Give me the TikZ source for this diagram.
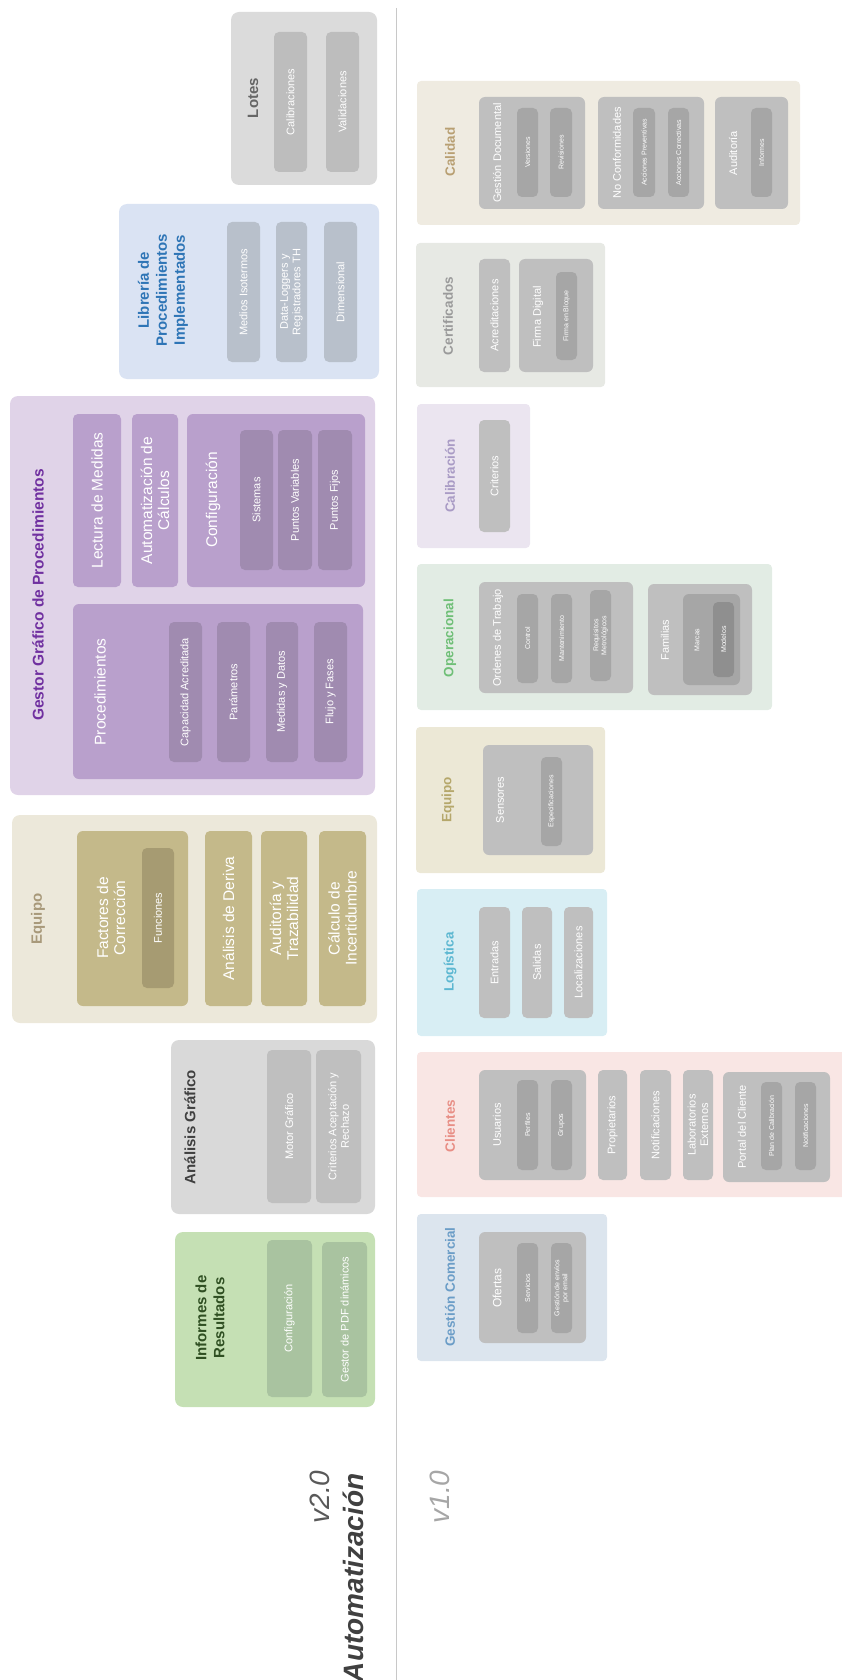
\documentclass[tikz,border=0pt]{standalone}
\usepackage{fontspec}
\setmainfont{Liberation Sans}
\usepackage{tikz}
\usetikzlibrary{positioning}

\definecolor{lotesbg}{HTML}{DBDBDB}
\definecolor{lotesit}{HTML}{BDBDBD}
\definecolor{lotestx}{HTML}{666666}
\definecolor{libbg}{HTML}{DAE3F3}
\definecolor{libit}{HTML}{B8C0CB}
\definecolor{libtx}{HTML}{2E75B6}
\definecolor{gesbg}{HTML}{E0D3E8}
\definecolor{gesit}{HTML}{B9A0CC}
\definecolor{gesin}{HTML}{A08BB0}
\definecolor{gestx}{HTML}{7030A0}
\definecolor{eqbg}{HTML}{ECE8DA}
\definecolor{eqit}{HTML}{C4B98A}
\definecolor{eqin}{HTML}{A69B72}
\definecolor{eqtx}{HTML}{A8997A}
\definecolor{agbg}{HTML}{D9D9D9}
\definecolor{agit}{HTML}{BFBFBF}
\definecolor{agtx}{HTML}{404040}
\definecolor{infbg}{HTML}{C5E0B4}
\definecolor{infit}{HTML}{A9C3A0}
\definecolor{inftx}{HTML}{2F4F22}
\definecolor{vtwotx}{HTML}{595959}
\definecolor{vonetx}{HTML}{A6A6A6}
\definecolor{divline}{HTML}{C8C8C8}
\definecolor{grayit}{HTML}{BFBFBF}
\definecolor{grayin}{HTML}{A6A6A6}
\definecolor{grayd}{HTML}{8F8F8F}
\definecolor{calbg}{HTML}{EFEBE1}
\definecolor{caltx}{HTML}{B89F72}
\definecolor{certbg}{HTML}{E7E9E4}
\definecolor{certtx}{HTML}{9A9A9A}
\definecolor{calibbg}{HTML}{EBE5F0}
\definecolor{calibtx}{HTML}{A99BC5}
\definecolor{opbg}{HTML}{E2ECE4}
\definecolor{optx}{HTML}{6FBF77}
\definecolor{eqonebg}{HTML}{ECE8D6}
\definecolor{eqonetx}{HTML}{B5A76B}
\definecolor{logbg}{HTML}{D8EEF4}
\definecolor{logtx}{HTML}{5BB7D1}
\definecolor{clibg}{HTML}{F9E6E4}
\definecolor{clitx}{HTML}{E88E85}
\definecolor{gcbg}{HTML}{DCE5EE}
\definecolor{gctx}{HTML}{6B9DC7}

\begin{document}
\begin{tikzpicture}[x=1pt, y=-1pt,
	wh/.style 2 args={minimum width=#2, minimum height=#1},
	panel/.style={rectangle, rounded corners=8pt, rotate=90, inner sep=0pt},
	panelone/.style={panel, rounded corners=4pt},
	group/.style={rectangle, rounded corners=6pt, rotate=90, inner sep=0pt},
	item/.style={rectangle, rounded corners=5pt, rotate=90, inner sep=1pt, align=center, text=white, font=\fontsize{11}{12.5}\selectfont},
	bigitem/.style={item, font=\fontsize{15.5}{17}\selectfont},
	tinyitem/.style={item, font=\fontsize{7}{8}\selectfont},
	title/.style={rotate=90, align=center, font=\bfseries\fontsize{15}{18}\selectfont},
	subtitle/.style={rotate=90, align=center, font=\bfseries\fontsize{13.5}{16}\selectfont},
	lbl/.style={rotate=90, align=center, text=white, font=\fontsize{11}{13}\selectfont},
	biglbl/.style={lbl, font=\fontsize{15.5}{17}\selectfont},
	tinylbl/.style={lbl, font=\fontsize{7}{8}\selectfont},
	ver/.style={rotate=90, anchor=east, font=\itshape\fontsize{28}{30}\selectfont}]

\useasboundingbox (0,0) rectangle (842,1680);

% v2.0 column
\node[panel, fill=lotesbg, wh={146}{173}] (lotes) at (304,98.5) {};
\node[title, text=lotestx] (lotesT) at (253,98) {Lotes};
\node[item, fill=lotesit, wh={33}{140}] (calibraciones) at (290.5,102) {Calibraciones};
\node[item, fill=lotesit, wh={33}{140}] (validaciones) at (342.5,102) {Validaciones};

\node[panel, fill=libbg, wh={260}{175}] (libreria) at (249,291.5) {};
\node[title, text=libtx] (libreriaT) at (163,290) {Librería de\\Procedimientos\\Implementados};
\node[item, fill=libit, wh={33}{140}] (isotermos) at (243.5,292) {Medios Isotermos};
\node[item, fill=libit, wh={31}{140}] (loggers) at (291.5,292) {Data-Loggers y\\Registradores TH};
\node[item, fill=libit, wh={33}{140}] (dimensional) at (340.5,292) {Dimensional};

\node[panel, fill=gesbg, wh={365}{399}] (gestor) at (192.5,595.5) {};
\node[title, text=gestx, font=\bfseries\fontsize{15.5}{18}\selectfont] (gestorT) at (38,595) {Gestor Gráfico de Procedimientos};
\node[bigitem, fill=gesit, wh={48}{173}] (lectura) at (97,500.5) {Lectura de Medidas};
\node[bigitem, fill=gesit, wh={46}{173}] (calculos) at (155,500.5) {Automatización de\\Cálculos};
\node[group, fill=gesit, wh={178}{173}] (config) at (276,500.5) {};
\node[biglbl] (configT) at (213,500) {Configuración};
\node[item, fill=gesin, wh={33}{140}] (sistemas) at (256.5,500) {Sistemas};
\node[item, fill=gesin, wh={34}{140}] (pvariables) at (295,500) {Puntos Variables};
\node[item, fill=gesin, wh={34}{140}] (pfijos) at (335,500) {Puntos Fijos};
\node[group, fill=gesit, wh={290}{175}] (proc) at (218,691.5) {};
\node[biglbl] (procT) at (100,692) {Procedimientos};
\node[item, fill=gesin, wh={33}{140}] (capacidad) at (185.5,692) {Capacidad Acreditada};
\node[item, fill=gesin, wh={33}{140}] (parametros) at (233.5,692) {Parámetros};
\node[item, fill=gesin, wh={32}{140}] (medidas) at (282,692) {Medidas y Datos};
\node[item, fill=gesin, wh={33}{140}] (flujo) at (330.5,692) {Flujo y Fases};

\node[panel, fill=eqbg, wh={365}{208}] (equipo) at (194.5,919) {};
\node[title, text=eqtx] (equipoT) at (38,919) {Equipo};
\node[group, fill=eqit, wh={111}{175}] (factores) at (132.5,918.5) {};
\node[biglbl] (factoresT) at (111,918) {Factores de\\Corrección};
\node[item, fill=eqin, wh={32}{140}] (funciones) at (158,918) {Funciones};
\node[bigitem, fill=eqit, wh={47}{175}] (deriva) at (228.5,918.5) {Análisis de Deriva};
\node[bigitem, fill=eqit, wh={46}{175}] (trazab) at (284,918.5) {Auditoría y\\Trazabilidad};
\node[bigitem, fill=eqit, wh={47}{175}] (incert) at (342.5,918.5) {Cálculo de\\Incertidumbre};

\node[panel, fill=agbg, wh={204}{174}] (agrafico) at (273,1127) {};
\node[title, text=agtx] (agraficoT) at (190,1127) {Análisis Gráfico};
\node[item, fill=agit, wh={44}{153}] (motor) at (289,1126.5) {Motor Gráfico};
\node[item, fill=agit, wh={45}{153}] (aceptacion) at (338.5,1126.5) {Criterios Aceptación y\\Rechazo};

\node[panel, fill=infbg, wh={200}{175}] (informes) at (275,1319.5) {};
\node[title, text=inftx] (informesT) at (210,1318) {Informes de\\Resultados};
\node[item, fill=infit, wh={45}{157}] (infconfig) at (289.5,1318.5) {Configuración};
\node[item, fill=infit, wh={45}{155}] (pdf) at (344.5,1319.5) {Gestor de PDF dinámicos};

\node[ver, text=vtwotx] (vtwo) at (320,1467) {v2.0};
\node[ver, text=agtx, font=\bfseries\itshape\fontsize{28}{30}\selectfont] (automat) at (353,1470) {Automatización};

% divider
\coordinate (divtop) at (396,8);
\coordinate (divbot) at (396,1680);
\draw[divline, line width=1pt] (divtop) -- (divbot);

% v1.0 column
\node[panelone, fill=calbg, wh={383}{144}] (calidad) at (608.5,153) {};
\node[subtitle, text=caltx] (calidadT) at (450,152) {Calidad};
\node[group, fill=grayit, wh={106}{112}] (gdoc) at (532,153) {};
\node[lbl] (gdocT) at (497,153) {Gestión Documental};
\node[tinyitem, fill=grayin, wh={21}{89}] (versiones) at (527.5,152.5) {Versiones};
\node[tinyitem, fill=grayin, wh={22}{89}] (revisiones) at (561,152.5) {Revisiones};
\node[group, fill=grayit, wh={106}{112}] (noconf) at (651,153) {};
\node[lbl] (noconfT) at (617,153) {No Conformidades};
\node[tinyitem, fill=grayin, wh={22}{89}] (preventivas) at (644,152.5) {Acciones Preventivas};
\node[tinyitem, fill=grayin, wh={21}{89}] (correctivas) at (678.5,152.5) {Acciones Correctivas};
\node[group, fill=grayit, wh={73}{112}] (auditoria) at (751.5,153) {};
\node[lbl] (auditoriaT) at (733,153) {Auditoría};
\node[tinyitem, fill=grayin, wh={21}{89}] (infauditoria) at (761.5,152.5) {Informes};

\node[panelone, fill=certbg, wh={189}{144}] (certif) at (510.5,315) {};
\node[subtitle, text=certtx] (certifT) at (448,316) {Certificados};
\node[item, fill=grayit, wh={31}{113}] (acredit) at (494.5,315.5) {Acreditaciones};
\node[group, fill=grayit, wh={74}{113}] (firma) at (556,315.5) {};
\node[lbl] (firmaT) at (538,317) {Firma Digital};
\node[tinyitem, fill=grayin, wh={21}{88}] (bloque) at (566.5,316) {Firma en Bloque};

\node[panelone, fill=calibbg, wh={113}{144}] (calibracion) at (473.5,476) {};
\node[subtitle, text=calibtx] (calibracionT) at (450,476) {Calibración};
\node[item, fill=grayit, wh={31}{112}] (criterios) at (494.5,476) {Criterios};

\node[panelone, fill=opbg, wh={355}{146}] (operacional) at (594.5,637) {};
\node[subtitle, text=optx] (operacionalT) at (450,638) {Operacional};
\node[group, fill=grayit, wh={154}{111}] (ordenes) at (556,637.5) {};
\node[lbl] (ordenesT) at (498,638) {Ordenes de Trabajo};
\node[tinyitem, fill=grayin, wh={21}{89}] (control) at (527.5,638.5) {Control};
\node[tinyitem, fill=grayin, wh={21}{89}] (mantenim) at (561.5,638.5) {Mantenimiento};
\node[tinyitem, fill=grayin, wh={21}{91}] (requisitos) at (600.5,635.5) {Requisitos\\Metrológicos};
\node[group, fill=grayit, wh={104}{111}] (familias) at (700,639.5) {};
\node[lbl] (familiasT) at (665,640) {Familias};
\node[group, fill=grayin, wh={57}{91}] (marcas) at (711.5,639.5) {};
\node[tinylbl] (marcasT) at (697,640) {Marcas};
\node[tinyitem, fill=grayd, wh={21}{75}] (modelos) at (723.5,639.5) {Modelos};

\node[panelone, fill=eqonebg, wh={189}{146}] (equipoone) at (510.5,800) {};
\node[subtitle, text=eqonetx] (equipooneT) at (448,800) {Equipo};
\node[group, fill=grayit, wh={110}{110}] (sensores) at (538,800) {};
\node[lbl] (sensoresT) at (500,800) {Sensores};
\node[tinyitem, fill=grayin, wh={21}{89}] (especif) at (551.5,801.5) {Especificaciones};

\node[panelone, fill=logbg, wh={190}{147}] (logistica) at (512,962.5) {};
\node[subtitle, text=logtx] (logisticaT) at (450,962) {Logística};
\node[item, fill=grayit, wh={31}{111}] (entradas) at (494.5,962.5) {Entradas};
\node[item, fill=grayit, wh={30}{111}] (salidas) at (537,962.5) {Salidas};
\node[item, fill=grayit, wh={29}{111}] (localiz) at (578.5,962.5) {Localizaciones};

\node[panelone, fill=clibg, wh={443}{145}] (clientes) at (638.5,1124.5) {};
\node[subtitle, text=clitx] (clientesT) at (450,1126) {Clientes};
\node[group, fill=grayit, wh={107}{110}] (usuarios) at (532.5,1125) {};
\node[lbl] (usuariosT) at (497,1125) {Usuarios};
\node[tinyitem, fill=grayin, wh={21}{90}] (perfiles) at (527.5,1125) {Perfiles};
\node[tinyitem, fill=grayin, wh={21}{90}] (grupos) at (561.5,1125) {Grupos};
\node[item, fill=grayit, wh={29}{110}] (propiet) at (612.5,1125) {Propietarios};
\node[item, fill=grayit, wh={31}{110}] (notif) at (655.5,1125) {Notificaciones};
\node[item, fill=grayit, wh={30}{110}] (labext) at (698,1125) {Laboratorios\\Externos};
\node[group, fill=grayit, wh={107}{110}] (portal) at (776.5,1127) {};
\node[lbl] (portalT) at (742,1127) {Portal del Cliente};
\node[tinyitem, fill=grayin, wh={21}{88}] (plan) at (771.5,1126) {Plan de Calibración};
\node[tinyitem, fill=grayin, wh={21}{88}] (notifportal) at (805.5,1126) {Notificaciones};

\node[panelone, fill=gcbg, wh={190}{147}] (gcomercial) at (512,1287.5) {};
\node[subtitle, text=gctx] (gcomercialT) at (450,1287) {Gestión Comercial};
\node[group, fill=grayit, wh={107}{111}] (ofertas) at (532.5,1287.5) {};
\node[lbl, font=\fontsize{12}{14}\selectfont] (ofertasT) at (497,1288) {Ofertas};
\node[tinyitem, fill=grayin, wh={21}{90}] (servicios) at (527.5,1288) {Servicios};
\node[tinyitem, fill=grayin, wh={21}{90}] (envios) at (561.5,1288) {Gestión de envíos\\por email};

\node[ver, text=vonetx] (vone) at (440,1467) {v1.0};
\end{tikzpicture}
\end{document}
